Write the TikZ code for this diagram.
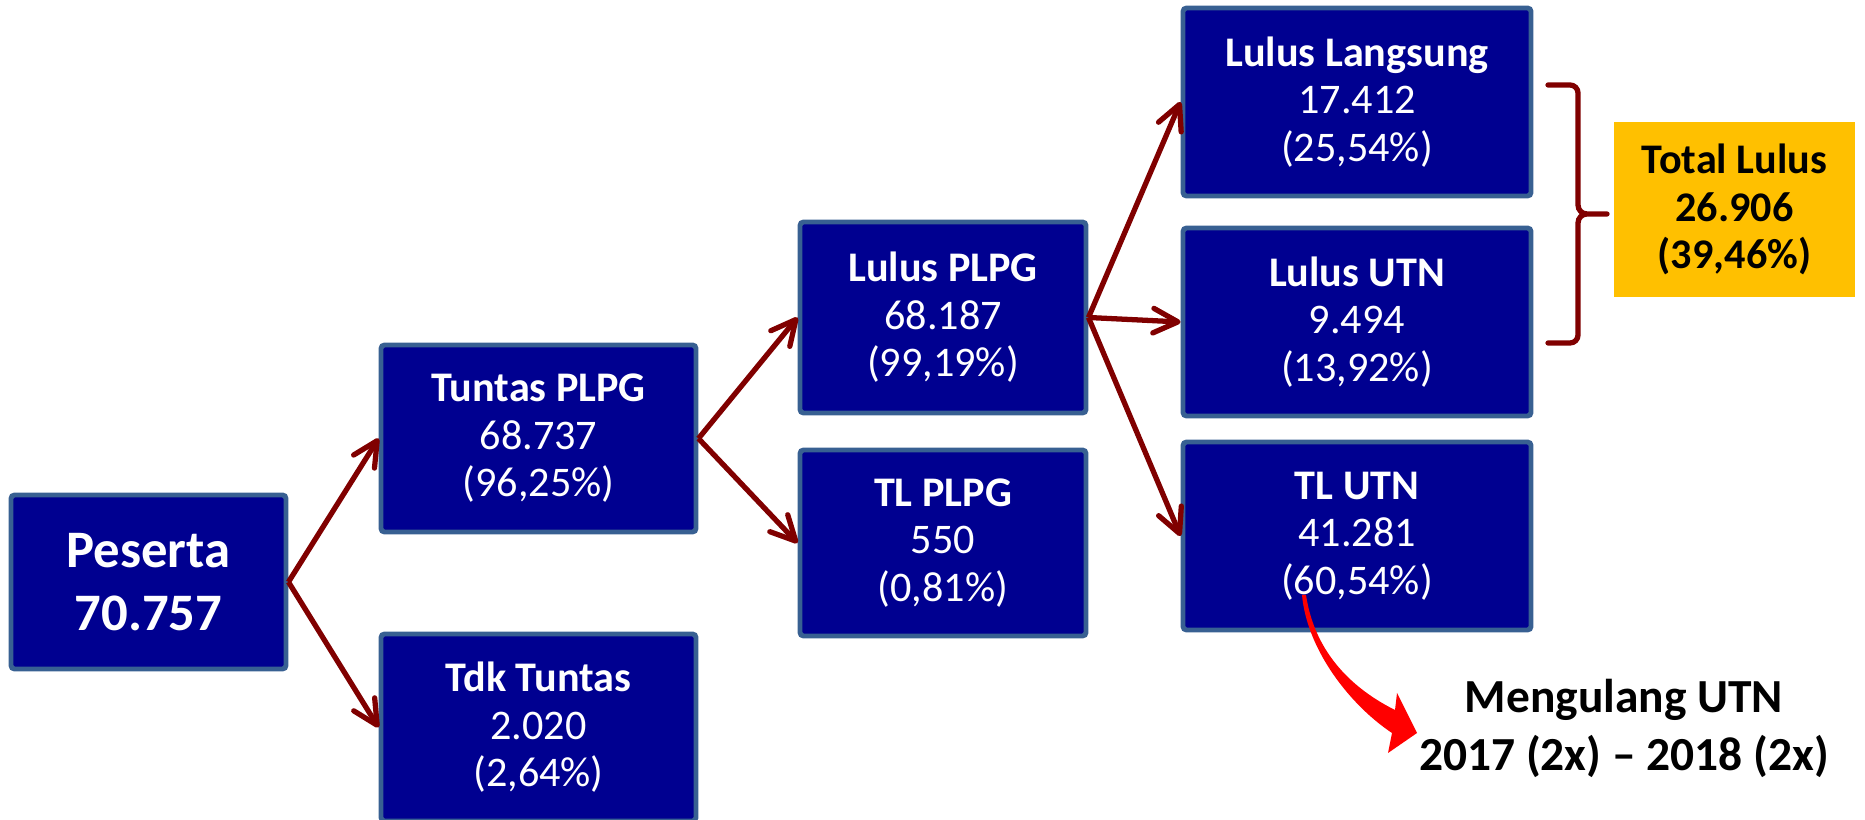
\documentclass[tikz,border=0pt]{standalone}
\usepackage{fontspec}
\setmainfont{Carlito}
\usetikzlibrary{arrows.meta}

\definecolor{boxfill}{RGB}{0,0,144}
\definecolor{boxline}{RGB}{56,96,146}
\definecolor{linkred}{RGB}{128,0,0}
\definecolor{totalgold}{RGB}{255,192,0}

\begin{document}
\begin{tikzpicture}[
    box/.style={draw=boxline, fill=boxfill, line width=1.4pt, rounded corners=1pt,
        text=white, align=center, inner sep=0pt, font=\fontsize{12}{13.5}\selectfont},
    link/.style={draw=linkred, line width=1.5pt, -{Straight Barb[length=7pt,width=7pt,round]}}
]
\useasboundingbox (0,0) rectangle (18.65,8.2);

% first column
\node[box, minimum width=2.75cm, minimum height=1.74cm,
    font=\fontsize{15}{18}\selectfont\bfseries] (peserta) at (1.485,2.38) {Peserta\\70.757};

% second column
\node[box, minimum width=3.15cm, minimum height=1.87cm] (tuntas) at (5.385,3.815)
    {\textbf{Tuntas PLPG}\\68.737\\(96,25\%)};
\node[box, minimum width=3.15cm, minimum height=1.87cm] (tdktuntas) at (5.385,0.925)
    {\textbf{Tdk Tuntas}\\2.020\\(2,64\%)};

% third column
\node[box, minimum width=2.86cm, minimum height=1.91cm] (lulusplpg) at (9.43,5.025)
    {\textbf{Lulus PLPG}\\68.187\\(99,19\%)};
\node[box, minimum width=2.86cm, minimum height=1.86cm] (tlplpg) at (9.43,2.77)
    {\textbf{TL PLPG}\\550\\(0,81\%)};

% fourth column
\node[box, minimum width=3.48cm, minimum height=1.88cm] (langsung) at (13.57,7.18)
    {\textbf{Lulus Langsung}\\17.412\\(25,54\%)};
\node[box, minimum width=3.48cm, minimum height=1.88cm] (lulusutn) at (13.57,4.98)
    {\textbf{Lulus UTN}\\9.494\\(13,92\%)};
\node[box, minimum width=3.48cm, minimum height=1.88cm] (tlutn) at (13.57,2.84)
    {\textbf{TL UTN}\\41.281\\(60,54\%)};

\node[fill=totalgold, minimum width=2.41cm, minimum height=1.75cm, align=center,
    font=\fontsize{12}{13.5}\selectfont\bfseries] (total) at (17.345,6.105)
    {Total Lulus\\26.906\\(39,46\%)};

\node[align=center, font=\fontsize{13.5}{16.5}\selectfont\bfseries] (ulang) at (16.24,0.915)
    {Mengulang UTN\\2017 (2x) – 2018 (2x)};

\draw[link] (peserta.east) -- (tuntas.west);
\draw[link] (peserta.east) -- (tdktuntas.west);
\draw[link] (tuntas.east) -- (lulusplpg.west);
\draw[link] (tuntas.east) -- (tlplpg.west);
\draw[link] (lulusplpg.east) -- (langsung.west);
\draw[link] (lulusplpg.east) -- (lulusutn.west);
\draw[link] (lulusplpg.east) -- (tlutn.west);

% brace
\coordinate (bracetop) at (15.48,7.35);
\coordinate (bracebot) at (15.48,4.77);
\coordinate (bracetip) at (16.07,6.06);
\draw[linkred, line width=1.5pt, line cap=round]
    (bracetop) -- (15.70,7.35) to[out=0,in=90] (15.78,7.27) -- (15.78,6.15)
    to[out=-90,in=180] (15.87,6.06) -- (bracetip)
    (15.87,6.06) to[out=180,in=90] (15.78,5.97) -- (15.78,4.85)
    to[out=-90,in=0] (15.70,4.77) -- (bracebot);

% red curved arrow
\fill[red] (13.02,2.25) .. controls (13.07,1.70) and (13.50,1.15) .. (13.92,0.87)
    -- (13.88,0.67) -- (14.17,0.87) -- (13.97,1.27) -- (13.95,1.10)
    .. controls (13.55,1.30) and (13.15,1.65) .. (13.06,2.25) -- cycle;
\end{tikzpicture}
\end{document}
